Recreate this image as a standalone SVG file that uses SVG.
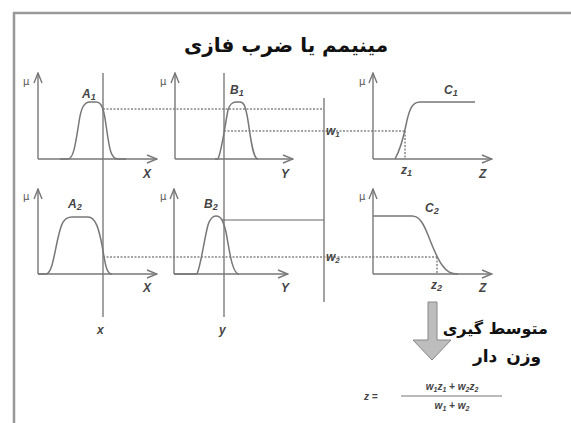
<svg xmlns="http://www.w3.org/2000/svg" width="571" height="423" viewBox="0 0 571 423">
<defs>
<marker id="ar" markerWidth="12" markerHeight="10" refX="11" refY="5" orient="auto" markerUnits="userSpaceOnUse">
<path d="M1,1 L11,5 L1,9" fill="none" stroke="#777" stroke-width="1.4"/>
</marker>
<style>
.ax{stroke:#777;stroke-width:1.4;fill:none}
.cv{stroke:#777;stroke-width:1.5;fill:none}
.ln{stroke:#666;stroke-width:1.2;fill:none}
.dt{stroke:#888;stroke-width:1.5;stroke-dasharray:2 1.5;fill:none}
.lb{font-family:"Liberation Sans",Arial,sans-serif;font-style:italic;font-weight:bold;font-size:12px;fill:#444}
.mu{font-family:"DejaVu Sans",sans-serif;font-size:10px;fill:#555}
.fa{font-family:"DejaVu Sans",sans-serif;font-weight:bold;fill:#111}
.fm{font-family:"Liberation Sans",Arial,sans-serif;font-style:italic;font-weight:bold;font-size:10px;fill:#444}
</style>
</defs>
<rect width="571" height="423" fill="#fff"/>
<path d="M14,423 L14,13 L571,13" fill="none" stroke="#999" stroke-width="2.5"/>
<text class="fa" x="286" y="52" font-size="20" text-anchor="middle" direction="rtl">مینیمم یا ضرب فازی</text>

<g id="connectors">
<line class="ln" x1="103" y1="73" x2="103" y2="317"/>
<line class="ln" x1="224" y1="73" x2="224" y2="317"/>
<line class="ln" x1="324" y1="98" x2="324" y2="302"/>
<line class="dt" x1="103" y1="109" x2="324" y2="109"/>
<line class="dt" x1="224" y1="131" x2="405" y2="131"/>
<line class="dt" x1="405" y1="131" x2="405" y2="159"/>
<line class="ln" x1="222" y1="220" x2="324" y2="220"/>
<line class="dt" x1="103" y1="257" x2="437" y2="257"/>
<line class="dt" x1="437" y1="257" x2="437" y2="274"/>
</g>

<g id="panelA1">
<line class="ax" x1="38" y1="159" x2="38" y2="73" marker-end="url(#ar)"/>
<line class="ax" x1="38" y1="159" x2="157" y2="159" marker-end="url(#ar)"/>
<path class="cv" d="M60,159 L68,159 C74,159 76,140 79,122 C81,108 84,102 90,102 L96,102 C102,102 104,110 106,125 C109,145 110,159 118,159 L126,159"/>
<text class="mu" x="23" y="85">μ</text>
<text class="lb" x="82" y="98">A<tspan font-size="9" dy="2">1</tspan></text>
<text class="lb" x="143" y="178">X</text>
</g>

<g id="panelB1">
<line class="ax" x1="175" y1="159" x2="175" y2="73" marker-end="url(#ar)"/>
<line class="ax" x1="175" y1="159" x2="293" y2="159" marker-end="url(#ar)"/>
<path class="cv" d="M215,159 L218,159 C222,150 225,125 228,110 C230,104 232,102 236,102 L240,102 C244,102 245,106 247,115 C250,130 252,159 258,159"/>
<text class="mu" x="160" y="85">μ</text>
<text class="lb" x="230" y="94">B<tspan font-size="9" dy="2">1</tspan></text>
<text class="lb" x="281" y="178">Y</text>
</g>

<g id="panelC1">
<line class="ax" x1="373" y1="159" x2="373" y2="73" marker-end="url(#ar)"/>
<line class="ax" x1="373" y1="159" x2="492" y2="159" marker-end="url(#ar)"/>
<path class="cv" d="M395,159 C400,150 403,140 406,125 C409,110 412,102 420,102 L475,102"/>
<text class="mu" x="359" y="85">μ</text>
<text class="lb" x="444" y="94">C<tspan font-size="9" dy="2">1</tspan></text>
<text class="lb" x="401" y="174">z<tspan font-size="9" dy="2">1</tspan></text>
<text class="lb" x="479" y="178">Z</text>
<text class="lb" x="326" y="135" font-size="10">w<tspan font-size="8" dy="2">1</tspan></text>
</g>

<g id="panelA2">
<line class="ax" x1="38" y1="274" x2="38" y2="189" marker-end="url(#ar)"/>
<line class="ax" x1="38" y1="274" x2="157" y2="274" marker-end="url(#ar)"/>
<path class="cv" d="M38,274 L46,274 C52,274 54,255 58,238 C61,225 63,217 72,217 L88,217 C96,217 99,230 102,245 C105,262 106,274 112,274"/>
<text class="mu" x="23" y="200">μ</text>
<text class="lb" x="68" y="208">A<tspan font-size="9" dy="2">2</tspan></text>
<text class="lb" x="143" y="292">X</text>
</g>

<g id="panelB2">
<line class="ax" x1="174" y1="274" x2="174" y2="189" marker-end="url(#ar)"/>
<line class="ax" x1="174" y1="274" x2="288" y2="274" marker-end="url(#ar)"/>
<path class="cv" d="M174,274 L197,274 C201,265 204,240 208,225 C210,219 212,216 216,216 C221,216 223,220 226,232 C229,248 232,274 239,274"/>
<text class="mu" x="160" y="200">μ</text>
<text class="lb" x="204" y="208">B<tspan font-size="9" dy="2">2</tspan></text>
<text class="lb" x="281" y="292">Y</text>
</g>

<g id="panelC2">
<line class="ax" x1="373" y1="274" x2="373" y2="189" marker-end="url(#ar)"/>
<line class="ax" x1="373" y1="274" x2="492" y2="274" marker-end="url(#ar)"/>
<path class="cv" d="M373,216 L412,216 C420,216 424,225 428,235 C433,248 437,258 442,265 C447,272 451,274 458,274"/>
<text class="mu" x="359" y="200">μ</text>
<text class="lb" x="425" y="212">C<tspan font-size="9" dy="2">2</tspan></text>
<text class="lb" x="431" y="289">z<tspan font-size="9" dy="2">2</tspan></text>
<text class="lb" x="479" y="292">Z</text>
<text class="lb" x="326" y="261" font-size="10">w<tspan font-size="8" dy="2">2</tspan></text>
</g>

<g id="inputs">
<text class="lb" x="97" y="334">x</text>
<text class="lb" x="219" y="334">y</text>
</g>

<g id="arrow">
<path d="M428,302 L437,302 L437,340 L451,340 L432,360 L413,340 L428,340 Z" fill="#bdbdbd" stroke="#888" stroke-width="1"/>
</g>

<g id="label">
<text class="fa" x="548" y="334" font-size="16" text-anchor="start" direction="rtl">متوسط گیری</text>
<text class="fa" x="541" y="362" font-size="17" word-spacing="3" text-anchor="start" direction="rtl">وزن دار</text>
</g>

<g id="formula">
<text class="fm" x="364" y="400">z =</text>
<text class="fm" x="452" y="390" text-anchor="middle">w<tspan font-size="7" dy="2">1</tspan><tspan dy="-2">z</tspan><tspan font-size="7" dy="2">1</tspan><tspan dy="-2"> + w</tspan><tspan font-size="7" dy="2">2</tspan><tspan dy="-2">z</tspan><tspan font-size="7" dy="2">2</tspan></text>
<line x1="401" y1="396" x2="502" y2="396" stroke="#777" stroke-width="1"/>
<text class="fm" x="452" y="409" text-anchor="middle">w<tspan font-size="7" dy="2">1</tspan><tspan dy="-2"> + w</tspan><tspan font-size="7" dy="2">2</tspan></text>
</g>
</svg>
